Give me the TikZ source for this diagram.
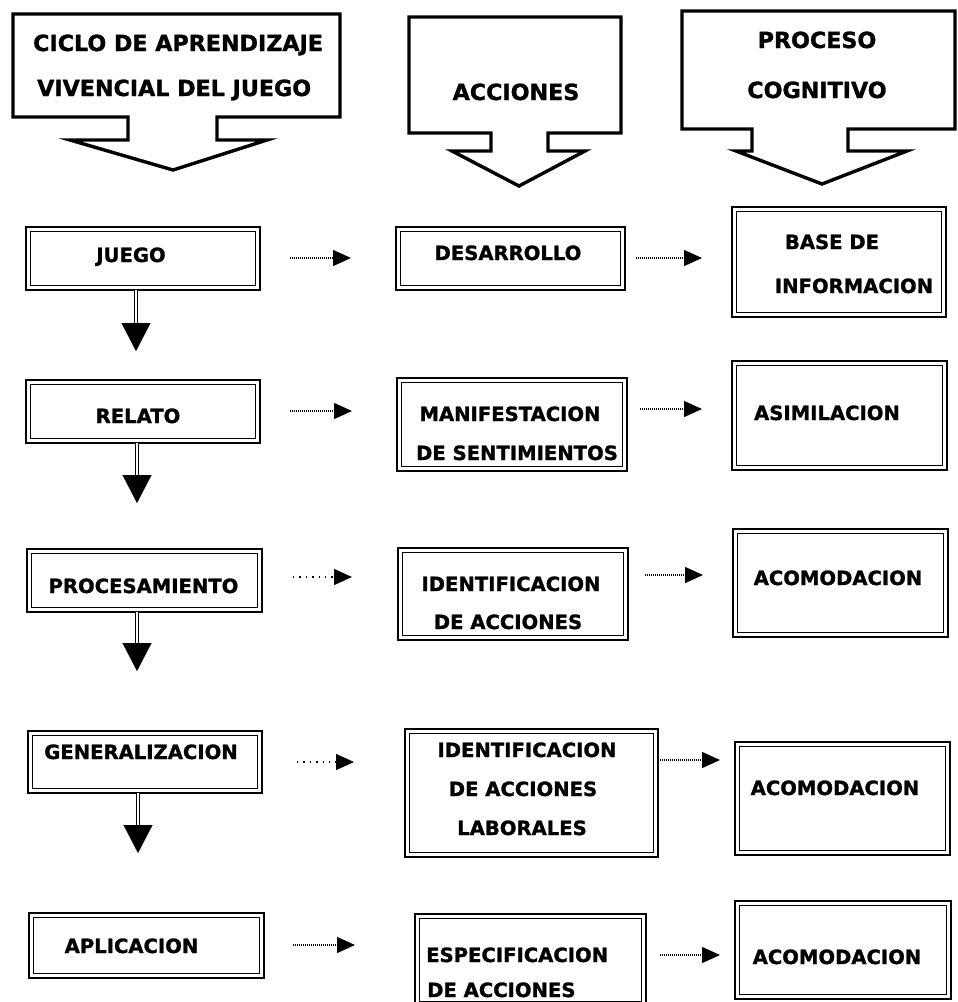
\documentclass[tikz,border=0pt]{standalone}
\usepackage{fontspec}
\setmainfont{DejaVu Sans}[BoldFeatures={FakeBold=1.3}]
\usetikzlibrary{arrows.meta}
\newcommand\mkbox[5]{\node[dbox, minimum width={(#4)-(#2)}, minimum height={(#5)-(#3)}] (#1) at ({((#2)+(#4))/2},{((#3)+(#5))/2}) {};}
\begin{document}
\begin{tikzpicture}[x=1pt,y=-1pt,
  hdr/.style={draw, line width=3.4pt, line join=miter},
  dbox/.style={draw, line width=2.8pt, inner sep=0pt, outer sep=0pt,
    path picture={\draw[line width=1.2pt] ([shift={(4.4pt,-4.4pt)}]path picture bounding box.north west) rectangle ([shift={(-4.4pt,4.4pt)}]path picture bounding box.south east);}},
  txt/.style={font=\bfseries\fontsize{19.6}{23}\selectfont, inner sep=0pt, anchor=base},
  txtl/.style={txt, anchor=base west},
  htxt/.style={font=\bfseries\fontsize{22.2}{26}\selectfont, inner sep=0pt, anchor=base},
  htxtl/.style={htxt, anchor=base west},
  stem/.style={draw, line width=1pt, double, double distance=1.6pt},
  headtip/.style={line width=0.1pt, -{Triangle[width=29pt,length=28pt]}},
  dotarrow/.style={line width=1.4pt, dash pattern=on 1.2pt off 0.8pt, -{Triangle[width=16pt,length=18pt]}},
  sparse/.style={dash pattern=on 1.4pt off 5pt}
]
\useasboundingbox (0,0) rectangle (958,1002);
\clip (0,0) rectangle (958,1002);

% header callouts
\draw[hdr] (13,14) -- (340,14) -- (340,117) -- (217,117) -- (217,140) -- (267,140) -- (173,170) -- (70,140) -- (128,140) -- (128,117) -- (13,117) -- cycle;
\draw[hdr] (409,17) -- (621,17) -- (621,133) -- (548,133) -- (548,151) -- (585,151) -- (519,186) -- (452,151) -- (491,151) -- (491,133) -- (409,133) -- cycle;
\draw[hdr] (682,11) -- (955,11) -- (955,129) -- (848,129) -- (848,151) -- (907,151) -- (822,184) -- (736,151) -- (752,151) -- (752,129) -- (682,129) -- cycle;
\node[htxtl] (h1a) at (33,51) {CICLO DE APRENDIZAJE};
\node[htxtl] (h1b) at (37,96) {VIVENCIAL DEL JUEGO};
\node[htxt] (h2a) at (516,100) {ACCIONES};
\node[htxt] (h3a) at (817,48) {PROCESO};
\node[htxt] (h3b) at (817,98) {COGNITIVO};

% boxes
\mkbox{A1}{26}{227}{260}{290}
\mkbox{A2}{26}{380}{260}{443}
\mkbox{A3}{27}{549}{262}{612}
\mkbox{A4}{28}{731}{262}{793}
\mkbox{A5}{29}{913}{264}{978}
\mkbox{B1}{396}{227}{625}{290}
\mkbox{B2}{397}{378}{627}{471}
\mkbox{B3}{398}{548}{628}{640}
\mkbox{B4}{405}{729}{658}{857}
\mkbox{B5}{415}{914}{646}{1006}
\mkbox{C1}{732}{207}{946}{317}
\mkbox{C2}{732}{361}{947}{470}
\mkbox{C3}{733}{529}{948}{637}
\mkbox{C4}{735}{742}{950}{855}
\mkbox{C5}{735}{901}{951}{999}

% texts
\node[txt] (tA1) at (131,262) {JUEGO};
\node[txt] (tA2) at (138,423) {RELATO};
\node[txt] (tA3) at (143.5,593) {PROCESAMIENTO};
\node[txt] (tA4) at (141,759) {GENERALIZACION};
\node[txt] (tA5) at (131.5,953) {APLICACION};
\node[txt] (tB1) at (508,260) {DESARROLLO};
\node[txt] (tB2a) at (510,421) {MANIFESTACION};
\node[txt] (tB2b) at (517,460) {DE SENTIMIENTOS};
\node[txt] (tB3a) at (511,591) {IDENTIFICACION};
\node[txt] (tB3b) at (508,629) {DE ACCIONES};
\node[txt] (tB4a) at (527,757) {IDENTIFICACION};
\node[txt] (tB4b) at (523,796) {DE ACCIONES};
\node[txt] (tB4c) at (522,835) {LABORALES};
\node[txtl] (tB5a) at (426,962) {ESPECIFICACION};
\node[txtl] (tB5b) at (427,997) {DE ACCIONES};
\node[txt] (tC1a) at (832,249) {BASE DE};
\node[txt] (tC1b) at (854,293) {INFORMACION};
\node[txt] (tC2) at (827,420) {ASIMILACION};
\node[txt] (tC3) at (838,585) {ACOMODACION};
\node[txt] (tC4) at (835,795) {ACOMODACION};
\node[txt] (tC5) at (837,964) {ACOMODACION};

% vertical arrows
\coordinate (h1) at (136,323); \coordinate (t1) at (136,351);
\coordinate (h2) at (137,475); \coordinate (t2) at (137,503);
\coordinate (h3) at (137,643); \coordinate (t3) at (137,671);
\coordinate (h4) at (138,825); \coordinate (t4) at (138,853);
\draw[stem] (A1.south -| h1) -- (h1); \draw[headtip] (h1) -- (t1);
\draw[stem] (A2.south -| h2) -- (h2); \draw[headtip] (h2) -- (t2);
\draw[stem] (A3.south -| h3) -- (h3); \draw[headtip] (h3) -- (t3);
\draw[stem] (A4.south -| h4) -- (h4); \draw[headtip] (h4) -- (t4);

% horizontal dotted arrows
\coordinate (a1s) at (290,258); \coordinate (a1e) at (351,258);
\coordinate (b1s) at (636,258); \coordinate (b1e) at (702,258);
\coordinate (a2s) at (290,411); \coordinate (a2e) at (352,411);
\coordinate (b2s) at (640,409); \coordinate (b2e) at (702,409);
\coordinate (a3s) at (293,577); \coordinate (a3e) at (352,577);
\coordinate (b3s) at (645,575); \coordinate (b3e) at (703,575);
\coordinate (a4s) at (297,762); \coordinate (a4e) at (354,762);
\coordinate (b4e) at (720,760);
\coordinate (a5s) at (293,945); \coordinate (a5e) at (355,945);
\coordinate (b5s) at (660,955); \coordinate (b5e) at (720,955);
\draw[dotarrow] (a1s) -- (a1e);
\draw[dotarrow] (b1s) -- (b1e);
\draw[dotarrow] (a2s) -- (a2e);
\draw[dotarrow] (b2s) -- (b2e);
\draw[dotarrow, sparse] (a3s) -- (a3e);
\draw[dotarrow] (b3s) -- (b3e);
\draw[dotarrow, sparse] (a4s) -- (a4e);
\draw[dotarrow] (B4.east |- b4e) -- (b4e);
\draw[dotarrow] (a5s) -- (a5e);
\draw[dotarrow] (b5s) -- (b5e);
\end{tikzpicture}
\end{document}
